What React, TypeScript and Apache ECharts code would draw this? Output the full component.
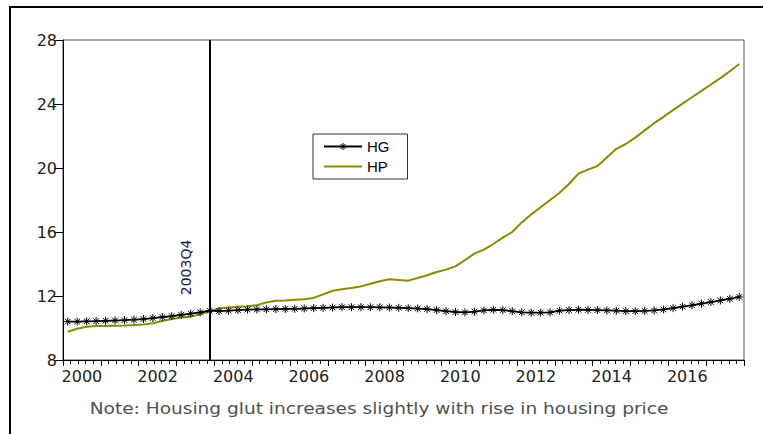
import React, { useEffect, useRef } from "react";
import * as echarts from "echarts";

const startYear = 2000;
const endYear = 2018;
const eventQuarter = "2003Q4";
const eventX = 2003.875;
const noteText = "Note: Housing glut increases slightly with rise in housing price";

const hgValues = [
  10.40, 10.40, 10.42, 10.43,
  10.45, 10.47, 10.49, 10.52,
  10.56, 10.62, 10.68, 10.74,
  10.82, 10.90, 10.98, 11.08,
  11.06, 11.08, 11.12, 11.15,
  11.16, 11.17, 11.18, 11.19,
  11.20, 11.22, 11.24, 11.26,
  11.28, 11.30, 11.30, 11.30,
  11.30, 11.29, 11.28, 11.26,
  11.24, 11.22, 11.18, 11.12,
  11.05, 11.00, 10.98, 11.02,
  11.10, 11.14, 11.12, 11.05,
  10.98, 10.96, 10.96, 10.98,
  11.08, 11.12, 11.14, 11.13,
  11.12, 11.10, 11.08, 11.06,
  11.05, 11.07, 11.10, 11.16,
  11.24, 11.33, 11.42, 11.52,
  11.62, 11.72, 11.82, 11.94,
];

const hpValues = [
  9.77, 9.95, 10.08, 10.13,
  10.13, 10.14, 10.15, 10.18,
  10.22, 10.30, 10.44, 10.56,
  10.65, 10.71, 10.85, 11.06,
  11.22, 11.28, 11.33, 11.36,
  11.42, 11.60, 11.70, 11.72,
  11.76, 11.80, 11.88, 12.10,
  12.33, 12.42, 12.50, 12.60,
  12.77, 12.92, 13.05, 13.00,
  12.96, 13.12, 13.30, 13.50,
  13.65, 13.85, 14.25, 14.65,
  14.90, 15.25, 15.65, 16.00,
  16.60, 17.10, 17.55, 18.00,
  18.45, 19.00, 19.65, 19.90,
  20.12, 20.65, 21.20, 21.50,
  21.90, 22.35, 22.80, 23.20,
  23.62, 24.02, 24.42, 24.82,
  25.22, 25.62, 26.05, 26.50,
];

// quarter mid-points: 2000Q1 -> 2000.125 ...
const quarterX = hgValues.map((_, i) => startYear + (i + 0.5) / 4);

const starPath =
  "path://M0,-5L0,5M-5,0L5,0M-3.5,-3.5L3.5,3.5M-3.5,3.5L3.5,-3.5";

export default function App() {
  const ref = useRef<HTMLDivElement>(null);

  useEffect(() => {
    document.body.style.margin = "0";
    if (!ref.current) return;
    const chart = echarts.init(ref.current, null, { renderer: "svg" });
    const baseGraphic: any[] = [
      { type: "line", shape: { x1: 9, y1: 7, x2: 763, y2: 7 }, style: { stroke: "#000", lineWidth: 2 } },
      { type: "line", shape: { x1: 10, y1: 6, x2: 10, y2: 434 }, style: { stroke: "#000", lineWidth: 2 } },
      {
        type: "text",
        x: 379,
        y: 408,
        scaleX: 1.16,
        style: {
          text: noteText,
          fontFamily: "DejaVu Sans",
          fontSize: 16,
          fill: "#505050",
          align: "center",
          verticalAlign: "middle",
        },
      },
    ];
    const option: any = {
      animation: false,
      backgroundColor: "#ffffff",
      grid: {
        left: 63,
        top: 40,
        width: 681,
        height: 320,
        show: true,
        borderColor: "#555555",
        borderWidth: 1,
        backgroundColor: "transparent",
      },
      legend: {
        orient: "vertical",
        left: 313,
        top: 134,
        itemWidth: 38,
        itemHeight: 9,
        itemGap: 5,
        padding: [5, 18, 5, 10],
        borderColor: "#333333",
        borderWidth: 1,
        backgroundColor: "#ffffff",
        textStyle: { fontFamily: "Liberation Sans", fontSize: 15, color: "#000" },
        data: [
          { name: "HG", itemStyle: { color: "transparent", borderColor: "#000", borderWidth: 1 } },
          { name: "HP", itemStyle: { color: "transparent", borderColor: "transparent", borderWidth: 0, opacity: 0 } },
        ],
      },
      xAxis: [
        {
          type: "value",
          min: startYear,
          max: endYear,
          interval: 1,
          axisLine: { show: true, onZero: false, lineStyle: { color: "#000", width: 1 } },
          axisTick: { show: true, length: 6, lineStyle: { color: "#000" } },
          minorTick: { show: true, splitNumber: 5, length: 4, lineStyle: { color: "#000" } },
          axisLabel: { show: false },
          splitLine: { show: false },
        },
        {
          type: "value",
          position: "bottom",
          min: startYear,
          max: endYear,
          interval: 0.5,
          axisLine: { show: false },
          axisTick: { show: false },
          splitLine: { show: false },
          axisLabel: {
            show: true,
            margin: 8,
            fontFamily: "DejaVu Sans",
            fontSize: 16,
            color: "#222",
            formatter: (v: number) => {
              const r = (v - startYear - 0.5) % 2;
              return Math.abs(r) < 1e-6 ? String(v - 0.5) : "";
            },
          },
        },
      ],
      yAxis: {
        type: "value",
        min: 8,
        max: 28,
        interval: 4,
        axisLine: { show: true, lineStyle: { color: "#000", width: 1 } },
        axisTick: { show: true, length: 9, lineStyle: { color: "#000" } },
        axisLabel: { margin: 6, fontFamily: "DejaVu Sans", fontSize: 16, color: "#222" },
        splitLine: { show: false },
      },
      series: [
        {
          name: "HG",
          type: "line",
          xAxisIndex: 0,
          data: quarterX.map((x, i) => [x, hgValues[i]]),
          symbol: starPath,
          symbolSize: 8,
          showAllSymbol: true,
          itemStyle: { color: "transparent", borderColor: "#000", borderWidth: 1 },
          lineStyle: { color: "#000", width: 1.8 },
          z: 3,
          markLine: {
            silent: true,
            symbol: "none",
            label: { show: false },
            lineStyle: { color: "#000", width: 2, type: "solid" },
            data: [{ xAxis: eventX }],
          },
        },
        {
          name: "HP",
          type: "line",
          xAxisIndex: 0,
          data: quarterX.map((x, i) => [x, hpValues[i]]),
          symbol: "none",
          itemStyle: { color: "#8b8b00" },
          lineStyle: { color: "#8b8b00", width: 2 },
          z: 2,
        },
      ],
      graphic: baseGraphic,
    };
    chart.setOption(option);

    const px = chart.convertToPixel({ xAxisIndex: 0 }, eventX) as number;
    const py = chart.convertToPixel({ yAxisIndex: 0 }, 12.05) as number;
    chart.setOption({
      graphic: [
        ...baseGraphic,
        {
          type: "text",
          x: px - 31,
          y: py,
          rotation: Math.PI / 2,
          style: {
            text: eventQuarter,
            fontFamily: "DejaVu Sans",
            fontSize: 14,
            fill: "#1a1a40",
            align: "left",
            verticalAlign: "top",
          },
        },
      ],
    });

    return () => chart.dispose();
  }, []);

  return <div ref={ref} style={{ width: 763, height: 434 }} />;
}
